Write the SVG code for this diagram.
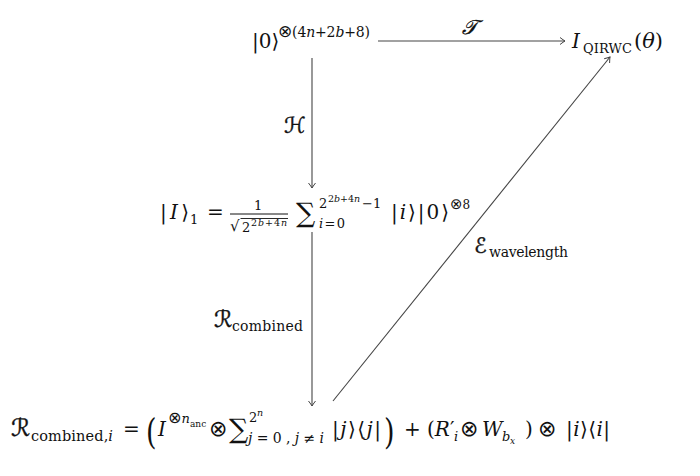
<svg xmlns="http://www.w3.org/2000/svg" width="700" height="476" viewBox="0 0 700 476">
<defs>
<marker id="ah" viewBox="-6 -4 7 8" markerWidth="7" markerHeight="8" refX="0" refY="0" orient="auto" markerUnits="userSpaceOnUse">
<path d="M-5,-3.5 Q-1.5,-0.8 0,0 Q-1.5,0.8 -5,3.5" fill="none" stroke="#444" stroke-width="1"/>
</marker>
<style>
text{font-family:"DejaVu Serif","DejaVu Sans",serif;fill:#111;}
.i{font-style:italic;}
.cal{font-style:italic;stroke:#111;stroke-width:0.4;}
.m{font-size:20px;}
.s{font-size:13px;}
.ss{font-size:9.5px;}
.ot{font-family:"DejaVu Sans",sans-serif;font-size:22px;}
.os{font-family:"DejaVu Sans",sans-serif;}
.edge{stroke:#444;stroke-width:1.1;fill:none;marker-end:url(#ah);}
</style>
</defs>
<rect width="700" height="476" fill="#fff"/>

<g id="connectors">
<line class="edge" x1="378" y1="41" x2="565" y2="41"/>
<line class="edge" x1="312" y1="58" x2="312" y2="188"/>
<line class="edge" x1="312" y1="232" x2="312" y2="406"/>
<line class="edge" x1="333" y1="401" x2="610" y2="57"/>
<text class="cal" x="462" y="34" font-size="20">𝒯</text>
<text class="cal" x="284" y="133" font-size="22">ℋ</text>
<g id="lbl-rcomb"><text class="cal" x="214" y="327" font-size="23">ℛ</text><text x="232" y="331" font-size="14" textLength="71" lengthAdjust="spacing">combined</text></g>
<g id="lbl-ewave"><text class="cal" x="474" y="253" font-size="21">ℰ</text><text x="489" y="257" font-size="14" textLength="79" lengthAdjust="spacing">wavelength</text></g>
</g>

<g id="node-init">
<text class="m" x="252" y="48">|0⟩</text>
<text font-size="14" x="278" y="37" textLength="92" lengthAdjust="spacing"><tspan class="os" font-size="17">⊗</tspan>(4<tspan class="i">n</tspan>+2<tspan class="i">b</tspan>+8)</text>
</g>

<g id="node-target">
<text class="m i" x="572" y="48">I</text>
<text x="583" y="53" font-size="13" textLength="49" lengthAdjust="spacing">QIRWC</text>
<text font-size="21" x="634" y="48">(<tspan class="i">θ</tspan>)</text>
</g>

<g id="node-I1">
<text class="m" x="160" y="219" textLength="29" lengthAdjust="spacing">|<tspan class="i">I</tspan>⟩</text>
<text class="s" x="190" y="224">1</text>
<text class="m" x="207" y="219">=</text>
<text class="s" x="254" y="210">1</text>
<line x1="230" y1="214" x2="288" y2="214" stroke="#111" stroke-width="1"/>
<text font-size="15" x="230" y="231">√</text>
<line x1="240.5" y1="218.5" x2="288" y2="218.5" stroke="#111" stroke-width="0.9"/>
<text class="s" x="242" y="232">2</text>
<text font-size="9.5" x="251" y="226" textLength="36" lengthAdjust="spacing">2<tspan class="i">b</tspan>+4<tspan class="i">n</tspan></text>
<text font-size="27" x="296" y="222">∑</text>
<text class="s" x="319" y="208">2</text>
<text class="ss" x="328" y="202" textLength="32" lengthAdjust="spacing">2<tspan class="i">b</tspan>+4<tspan class="i">n</tspan></text>
<text class="s" x="362" y="208">−1</text>
<text class="s" x="319" y="228" textLength="26" lengthAdjust="spacing"><tspan class="i">i</tspan>=0</text>
<text class="m" x="391" y="219" textLength="58" lengthAdjust="spacing">|<tspan class="i">i</tspan>⟩|0⟩</text>
<text font-size="12" x="450" y="209"><tspan class="os" font-size="15">⊗</tspan>8</text>
</g>

<g id="node-Rcomb">
<text class="cal" x="11" y="436" font-size="24">ℛ</text>
<text x="31" y="441" font-size="14.5" textLength="82" lengthAdjust="spacing">combined,<tspan class="i">i</tspan></text>
<text class="m" x="123" y="436">=</text>
<text x="146" y="444" font-size="36" transform="translate(146 444) scale(0.75 1) translate(-146 -444)">(</text>
<text class="m i" x="158" y="436">I</text>
<text class="s" x="168" y="423"><tspan class="os" font-size="16">⊗</tspan><tspan class="i">n</tspan></text>
<text x="190" y="427" font-size="9">anc</text>
<text class="ot" x="209" y="436" font-size="20">⊗</text>
<text font-size="27" x="229" y="438">∑</text>
<text class="s" x="249" y="422">2</text>
<text class="ss i" x="257" y="416">n</text>
<text font-size="14" x="248" y="443" textLength="76" lengthAdjust="spacing"><tspan class="i">j</tspan>=0,<tspan class="i">j</tspan>≠<tspan class="i">i</tspan></text>
<text class="m" x="332" y="436" textLength="49" lengthAdjust="spacing">|<tspan class="i">j</tspan>⟩⟨<tspan class="i">j</tspan>|</text>
<text x="384" y="444" font-size="36" transform="translate(384 444) scale(0.75 1) translate(-384 -444)">)</text>
<text class="m" x="404" y="436">+</text>
<text class="m" x="427" y="436">(<tspan class="i">R</tspan>′</text>
<text class="s i" x="454" y="441">i</text>
<text class="ot" x="460" y="436">⊗</text>
<text class="m i" x="482" y="436">W</text>
<text class="s i" x="502" y="441">b</text>
<text font-size="9" class="i" x="510" y="444">x</text>
<text class="m" x="525" y="436">)</text>
<text class="ot" x="538" y="436">⊗</text>
<text class="m" x="566" y="436" textLength="44" lengthAdjust="spacing">|<tspan class="i">i</tspan>⟩⟨<tspan class="i">i</tspan>|</text>
</g>
</svg>
